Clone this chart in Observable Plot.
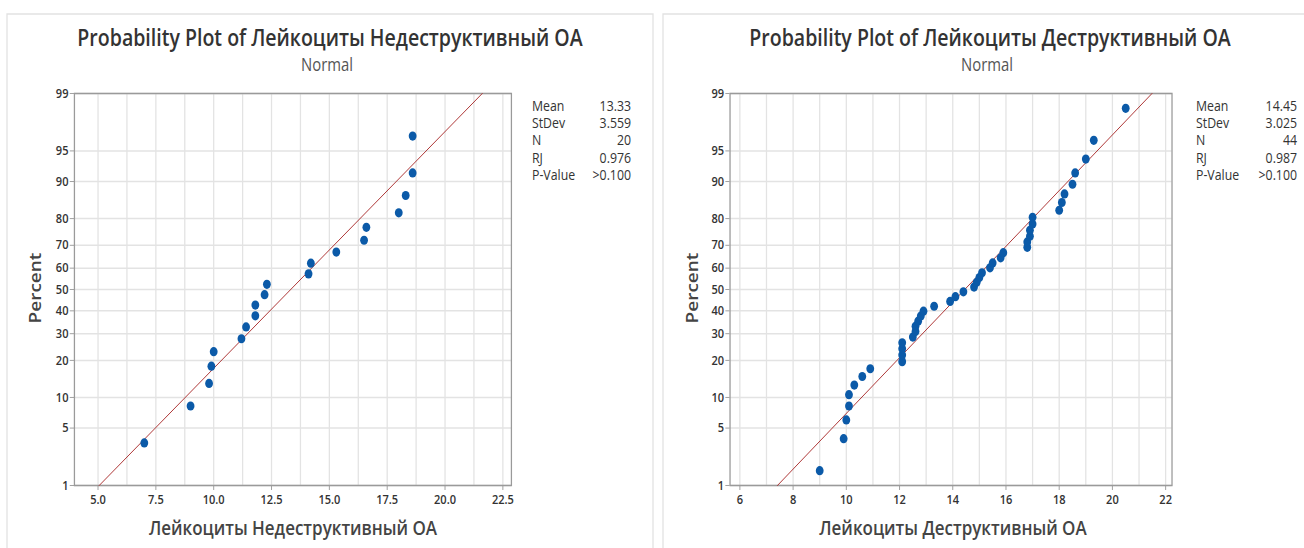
<!DOCTYPE html>
<html>
<head>
<meta charset="utf-8">
<script src="https://cdn.jsdelivr.net/npm/d3@7"></script>
<script src="https://cdn.jsdelivr.net/npm/@observablehq/plot@0.6"></script>
<style>
  html, body { margin: 0; padding: 0; background: #fff; overflow: hidden; }
  /* The whole sheet is drawn wide, then condensed horizontally */
  #sheet { position: absolute; left: 0; top: 0; width: 1534px; height: 548px;
           transform: scaleX(0.85); transform-origin: 0 0; }
  #sheet > svg, #sheet > div { position: absolute; top: 0; }
  #overlay { left: 0; pointer-events: none; }
</style>
</head>
<body>
<div id="sheet"></div>
<script>
// ---- data ---------------------------------------------------------------
const leukNondestructive = [7.0, 9.0, 9.8, 9.9, 10.0, 11.2, 11.4, 11.8, 11.8, 12.2,
                            12.3, 14.1, 14.2, 15.3, 16.5, 16.6, 18.0, 18.3, 18.6, 18.6];
const leukDestructive = [9.0, 9.9, 10.0, 10.1, 10.1, 10.3, 10.6, 10.9, 12.1, 12.1,
                         12.1, 12.1, 12.5, 12.6, 12.6, 12.7, 12.8, 12.9, 13.3, 13.9,
                         14.1, 14.4, 14.8, 14.9, 15.0, 15.1, 15.4, 15.5, 15.8, 15.9,
                         16.8, 16.8, 16.9, 16.9, 17.0, 17.0, 18.0, 18.1, 18.2, 18.5,
                         18.6, 19.0, 19.3, 20.5];
const percentTicks = [1, 5, 10, 20, 30, 40, 50, 60, 70, 80, 90, 95, 99];
const xTicksNondestructive = [5.0, 7.5, 10.0, 12.5, 15.0, 17.5, 20.0, 22.5];
const xTicksDestructive = [6, 8, 10, 12, 14, 16, 18, 20, 22];
const statLabels = ["Mean", "StDev", "N", "RJ", "P-Value"];
const statsNondestructive = ["13.33", "3.559", "20", "0.976", ">0.100"];
const statsDestructive = ["14.45", "3.025", "44", "0.987", ">0.100"];
const titleNondestructive = "Probability Plot of Лейкоциты Недеструктивный ОА";
const titleDestructive = "Probability Plot of Лейкоциты Деструктивный ОА";
const axisNondestructive = "Лейкоциты Недеструктивный ОА";
const axisDestructive = "Лейкоциты Деструктивный ОА";

// ---- helpers ------------------------------------------------------------
const S = 0.85;               // horizontal condensing of the sheet
const X = px => px / S;       // screen x -> sheet x

// inverse standard normal CDF (Acklam's rational approximation)
function probit(p) {
  const a = [-3.969683028665376e+01, 2.209460984245205e+02, -2.759285104469687e+02,
             1.383577518672690e+02, -3.066479806614716e+01, 2.506628277459239e+00];
  const b = [-5.447609879822406e+01, 1.615858368580409e+02, -1.556989798598866e+02,
             6.680131188771972e+01, -1.328068155288572e+01];
  const c = [-7.784894002430293e-03, -3.223964580411365e-01, -2.400758277161838e+00,
             -2.549671010258605e+00, 4.374664141464968e+00, 2.938163982698783e+00];
  const d = [7.784695709041462e-03, 3.224671290700398e-01, 2.445134137142996e+00,
             3.754408661907416e+00];
  const pl = 0.02425, ph = 1 - pl;
  let q, r;
  if (p < pl) {
    q = Math.sqrt(-2 * Math.log(p));
    return (((((c[0]*q+c[1])*q+c[2])*q+c[3])*q+c[4])*q+c[5]) / ((((d[0]*q+d[1])*q+d[2])*q+d[3])*q+1);
  }
  if (p <= ph) {
    q = p - 0.5; r = q * q;
    return (((((a[0]*r+a[1])*r+a[2])*r+a[3])*r+a[4])*r+a[5])*q / (((((b[0]*r+b[1])*r+b[2])*r+b[3])*r+b[4])*r+1);
  }
  q = Math.sqrt(-2 * Math.log(1 - p));
  return -(((((c[0]*q+c[1])*q+c[2])*q+c[3])*q+c[4])*q+c[5]) / ((((d[0]*q+d[1])*q+d[2])*q+d[3])*q+1);
}

// median-rank (Benard) plotting positions
function probPoints(values) {
  const v = values.slice().sort((a, b) => a - b), n = v.length;
  return v.map((x, i) => ({x, z: probit((i + 1 - 0.3) / (n + 0.4))}));
}

// fitted normal line from the stated mean and standard deviation
function fitLine(stats) {
  const mean = +stats[0], sd = +stats[1];
  return [percentTicks[0], percentTicks[percentTicks.length - 1]]
    .map(p => ({x: mean + sd * probit(p / 100), z: probit(p / 100)}));
}

// grid at every tick and halfway between ticks
function gridValues(ticks, domain) {
  const step = ticks[1] - ticks[0];
  const out = [];
  for (let t = ticks[0] - step / 2; t <= ticks[ticks.length - 1] + step / 2 + 1e-9; t += step / 2)
    if (t >= domain[0] && t <= domain[1]) out.push(+t.toFixed(4));
  return out;
}

const zTicks = percentTicks.map(p => probit(p / 100));
const zDomain = [zTicks[0], zTicks[zTicks.length - 1]];

function probabilityPlot({values, stats, xTicks, xDomain, fmt, left, width, frameLeft, frameRight}) {
  const chart = Plot.plot({
    width: X(width), height: 548,
    marginLeft: X(frameLeft - left), marginRight: X(left + width - frameRight),
    marginTop: 93, marginBottom: 63,
    style: {fontFamily: "'Open Sans', sans-serif", fontSize: "13px", fontWeight: 600,
            color: "#333", background: "transparent"},
    x: {domain: xDomain},
    y: {domain: zDomain},
    marks: [
      Plot.gridX(gridValues(xTicks, xDomain), {stroke: "#e3e3e3", strokeOpacity: 1, strokeWidth: 1.5}),
      Plot.gridY(zTicks, {stroke: "#e3e3e3", strokeOpacity: 1, strokeWidth: 1.5}),
      Plot.axisX(xTicks, {tickFormat: fmt, tickSize: 5, tickPadding: 4, stroke: "#999", label: null}),
      Plot.axisY(zTicks, {tickFormat: d => percentTicks[zTicks.findIndex(z => Math.abs(z - d) < 1e-9)],
                          tickSize: 5, tickPadding: 2, stroke: "#999", label: null}),
      Plot.frame({stroke: "#9a9a9a", strokeWidth: 1.5}),
      Plot.line(fitLine(stats), {x: "x", y: "z", stroke: "#a82828", strokeWidth: 1}),
      Plot.dot(probPoints(values), {x: "x", y: "z", r: 4.6, fill: "#0b5aa8", stroke: null})
    ]
  });
  chart.style.left = X(left) + "px";
  return chart;
}

const sheet = document.getElementById("sheet");
sheet.appendChild(probabilityPlot({
  values: leukNondestructive, stats: statsNondestructive,
  xTicks: xTicksNondestructive, xDomain: [3.98, 22.87], fmt: d => d.toFixed(1),
  left: 0, width: 660, frameLeft: 74, frameRight: 511
}));
sheet.appendChild(probabilityPlot({
  values: leukDestructive, stats: statsDestructive,
  xTicks: xTicksDestructive, xDomain: [5.63, 22.24], fmt: d => String(d),
  left: 660, width: 644, frameLeft: 730, frameRight: 1172
}));

// ---- panel frames, titles, axis titles and statistics -------------------
const svg = d3.select(sheet).append("svg").attr("id", "overlay")
  .attr("width", 1534).attr("height", 548)
  .style("font-family", "'Open Sans', sans-serif");

svg.append("rect").attr("x", X(7)).attr("y", 14).attr("width", X(646)).attr("height", 560)
  .attr("fill", "none").attr("stroke", "#e2e2e2").attr("stroke-width", 1.5);
svg.append("rect").attr("x", X(663)).attr("y", 14).attr("width", X(700)).attr("height", 560)
  .attr("fill", "none").attr("stroke", "#e2e2e2").attr("stroke-width", 1.5);

function panelText({cx, title, axis, stats, plotCx, percentX, statX, statRight}) {
  svg.append("text").attr("x", X(cx)).attr("y", 46).attr("text-anchor", "middle")
    .attr("font-size", 23).attr("font-weight", 600).attr("fill", "#333").text(title);
  svg.append("text").attr("x", X(cx - 3)).attr("y", 71.5).attr("text-anchor", "middle")
    .attr("font-size", 17.5).attr("font-weight", 500).attr("fill", "#555").text("Normal");
  svg.append("text").attr("x", X(plotCx)).attr("y", 535).attr("text-anchor", "middle")
    .attr("font-size", 20).attr("font-weight", 600).attr("fill", "#444").text(axis);
  svg.append("text").attr("transform", `translate(${X(percentX)},288) rotate(-90)`)
    .attr("text-anchor", "middle").attr("font-size", 19).attr("font-weight", 600)
    .attr("fill", "#444").text("Percent");
  statLabels.forEach((lab, i) => {
    const y = 111 + i * 17.2;
    svg.append("text").attr("x", X(statX)).attr("y", y).attr("font-size", 14.5)
      .attr("fill", "#333").text(lab);
    svg.append("text").attr("x", X(statRight)).attr("y", y).attr("font-size", 14.5)
      .attr("text-anchor", "end").attr("fill", "#333").text(stats[i]);
  });
}
panelText({cx: 330, title: titleNondestructive, axis: axisNondestructive, stats: statsNondestructive,
           plotCx: 293, percentX: 41, statX: 532, statRight: 631});
panelText({cx: 990, title: titleDestructive, axis: axisDestructive, stats: statsDestructive,
           plotCx: 953, percentX: 698, statX: 1196, statRight: 1297});
</script>
</body>
</html>
